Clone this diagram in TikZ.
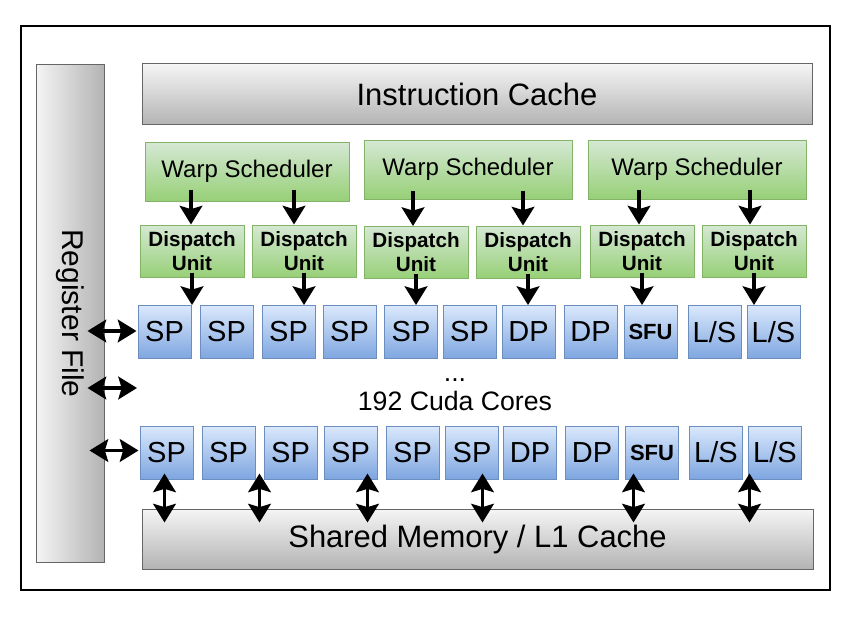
\documentclass[tikz,border=0pt]{standalone}
\usepackage{fontspec}
\setmainfont{Liberation Sans}
\usepackage{graphicx}
\usetikzlibrary{arrows.meta,calc}
\definecolor{gtop}{HTML}{F5F5F5}
\definecolor{gbot}{HTML}{B3B3B3}
\definecolor{gline}{HTML}{666666}
\definecolor{ntop}{HTML}{D5E8D4}
\definecolor{nbot}{HTML}{97D077}
\definecolor{nline}{HTML}{82B366}
\definecolor{btop}{HTML}{DAE8FC}
\definecolor{bbot}{HTML}{7EA6E0}
\definecolor{bline}{HTML}{6C8EBF}
\newcommand{\sfutext}{\fontsize{16.5}{18}\selectfont\bfseries}
\begin{document}
\begin{tikzpicture}[x=0.75pt,y=-0.75pt,
  bw/.style={minimum width=#1*0.75pt},
  bh/.style={minimum height=#1*0.75pt},
  boxbase/.style={draw, line width=0.75pt, inner sep=0pt, text=black},
  graybox/.style={boxbase, draw=gline, top color=gtop, bottom color=gbot,
    font=\fontsize{23.2}{27}\selectfont},
  warpbox/.style={boxbase, draw=nline, top color=ntop, bottom color=nbot,
    font=\fontsize{18}{21}\selectfont, bh=59},
  dispbox/.style={boxbase, draw=nline, top color=ntop, bottom color=nbot,
    font=\fontsize{15.5}{18}\selectfont\bfseries, align=center, bw=104, bh=52},
  core/.style={boxbase, draw=bline, top color=btop, bottom color=bbot,
    font=\fontsize{21.75}{24}\selectfont, bw=53, bh=53},
  tipa/.tip={Stealth[length=14pt,width=17pt,inset=2.5pt]},
  arr/.style={line width=2.6pt, -tipa},
  darr/.style={line width=2.6pt, tipa-tipa}
]
\fill[white] (0,0) rectangle (850,617);
\useasboundingbox (0,0) rectangle (850,617);

% outer frame
\node[draw, line width=1.1pt, inner sep=0pt, bw=809, bh=564] (frame) at (425.5,308) {};

% register file
\node[boxbase, draw=gline, left color=gtop, right color=gbot, bw=68, bh=497,
  font=\fontsize{22.5}{27}\selectfont] (rf) at (70,313.5) {\rotatebox{-90}{Register File}};

% caches
\node[graybox, bw=670, bh=61] (ic) at (477,94.5) {\raisebox{-1.5pt}{Instruction Cache}};
\node[graybox, bw=671, bh=60] (sm) at (477.5,539) {\raisebox{-1.5pt}{Shared Memory / L1 Cache}};

% warp schedulers
\node[warpbox, bw=204] (W1) at (247,171.5) {Warp Scheduler};
\node[warpbox, bw=208] (W2) at (468,169.5) {Warp Scheduler};
\node[warpbox, bw=218] (W3) at (697,169.5) {Warp Scheduler};

% dispatch units
\node[dispbox] (D1) at (192,251) {Dispatch\\Unit};
\node[dispbox] (D2) at (304,251) {Dispatch\\Unit};
\node[dispbox] (D3) at (416,252.5) {Dispatch\\Unit};
\node[dispbox] (D4) at (528,252) {Dispatch\\Unit};
\node[dispbox] (D5) at (642,251) {Dispatch\\Unit};
\node[dispbox] (D6) at (754,251) {Dispatch\\Unit};

% core rows
\foreach \x/\t [count=\i] in {164.5/SP,226.5/SP,288.5/SP,349.5/SP,411/SP,469.5/SP,528.5/DP,590.5/DP,650.5/{\sfutext SFU},714.5/{L/S},773.5/{L/S}}
  \node[core] (r1c\i) at (\x,332) {\t};
\foreach \x/\t [count=\i] in {166.5/SP,228.5/SP,290.5/SP,350.5/SP,412.5/SP,472/SP,530/DP,592/DP,652/{\sfutext SFU},716/{L/S},775/{L/S}}
  \node[core] (r2c\i) at (\x,452.5) {\t};

% text between rows
\node[font=\fontsize{20}{22}\selectfont, anchor=base, inner sep=0pt] (dots) at (455,381) {...};
\node[font=\fontsize{20}{22}\selectfont, anchor=base, inner sep=0pt] (cores) at (455,410) {192 Cuda Cores};

% warp -> dispatch
\draw[arr] ($(D1.north)+(-1,-35)$) -- ($(D1.north)+(-1,0)$);
\draw[arr] ($(D2.north)+(-10,-35)$) -- ($(D2.north)+(-10,0)$);
\draw[arr] ($(D3.north)+(-3,-35)$) -- ($(D3.north)+(-3,0)$);
\draw[arr] ($(D4.north)+(-5,-35)$) -- ($(D4.north)+(-5,0)$);
\draw[arr] ($(D5.north)+(-3,-35)$) -- ($(D5.north)+(-3,0)$);
\draw[arr] ($(D6.north)+(-4,-35)$) -- ($(D6.north)+(-4,0)$);

% dispatch -> cores
\foreach \d/\c in {D1/r1c1,D2/r1c3,D3/r1c5,D4/r1c7,D5/r1c9,D6/r1c11}
  \draw[arr] ($(\d.south)+(0,-5)$) -- (\d.south |- \c.north);

% register file <-> cores
\coordinate (midend) at (137,388);
\draw[darr] ($(rf.east |- r1c1.west)+(-17,-1)$) -- ($(r1c1.west)+(-1,-1)$);
\draw[darr] ($(rf.east |- midend)+(-17,0)$) -- (midend);
\draw[darr] ($(rf.east |- r2c1.west)+(-15,-2)$) -- ($(r2c1.west)+(-1,-2)$);

% cores <-> shared memory
\foreach \o in {23,118,226,341,492,608}
  \draw[darr] ($(sm.north west)+(\o,-35)$) -- ($(sm.north west)+(\o,14)$);
\end{tikzpicture}
\end{document}
